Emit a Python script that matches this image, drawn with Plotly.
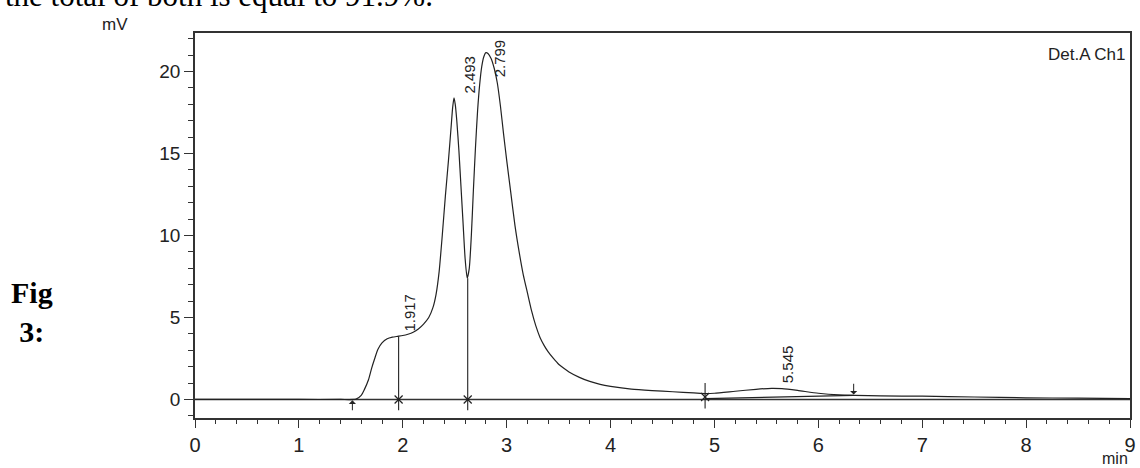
import plotly.graph_objects as go

# ---- data ----
time_min = [0.0, 0.5, 1.0, 1.4, 1.55, 1.6, 1.63, 1.67, 1.70, 1.73, 1.76, 1.80, 1.85, 1.90,
            1.95, 2.00, 2.05, 2.10, 2.15, 2.20, 2.25, 2.29, 2.32, 2.35, 2.38, 2.41, 2.44,
            2.465, 2.48, 2.493, 2.505, 2.52, 2.54, 2.56, 2.58, 2.60, 2.62, 2.64, 2.66, 2.68,
            2.70, 2.72, 2.74, 2.76, 2.78, 2.80, 2.82, 2.85, 2.88, 2.91, 2.94, 2.97, 3.00,
            3.04, 3.08, 3.12, 3.16, 3.20, 3.24, 3.28, 3.32, 3.36, 3.40, 3.45, 3.50, 3.55,
            3.60, 3.70, 3.80, 3.90, 4.0, 4.2, 4.4, 4.6, 4.8, 4.92, 5.0, 5.2, 5.4, 5.55,
            5.65, 5.8, 6.0, 6.2, 6.35, 6.6, 7.0, 7.5, 8.0, 8.5, 9.0]
signal_mv = [0.0, 0.0, 0.0, 0.0, 0.02, 0.25, 0.6, 1.2, 1.9, 2.5, 3.05, 3.45, 3.7, 3.8,
             3.85, 3.9, 3.98, 4.1, 4.3, 4.6, 5.0, 5.6, 6.4, 7.8, 10.0, 12.4, 14.6,
             16.6, 17.8, 18.4, 18.0, 17.0, 15.2, 13.0, 10.8, 8.6, 7.4, 8.0, 10.0, 12.8,
             15.4, 17.6, 19.2, 20.3, 20.9, 21.15, 21.1, 20.8, 20.2, 19.3, 17.9, 16.2, 14.6,
             12.6, 10.6, 9.0, 7.6, 6.5, 5.4, 4.5, 3.8, 3.3, 2.9, 2.5, 2.15, 1.9,
             1.68, 1.35, 1.1, 0.92, 0.8, 0.63, 0.54, 0.47, 0.4, 0.36, 0.38, 0.5, 0.62, 0.68,
             0.66, 0.55, 0.38, 0.28, 0.25, 0.22, 0.2, 0.15, 0.1, 0.08, 0.05]

peak_labels = ["1.917", "2.493", "2.799", "5.545"]
peak_label_x = [2.065, 2.645, 2.935, 5.70]
peak_label_y = [5.27, 19.8, 20.8, 2.16]

drop_times = [1.96, 2.625]
drop_tops = [3.85, 7.4]
drop_bottom = -0.65

start_arrow = (1.515, -0.75, -0.05)   # x, tail y, head y (pointing up)
end_arrow = (6.34, 1.05, 0.3)         # x, tail y, head y (pointing down)
split_mark = (4.91, -0.55, 1.0)       # x, bottom, top
split_baseline_x = [4.91, 6.34]
split_baseline_y = [0.05, 0.25]

x_ticks = [0, 1, 2, 3, 4, 5, 6, 7, 8, 9]
y_ticks = [0, 5, 10, 15, 20]

# ---- layout geometry (pixels) ----
W, H = 1140, 468
L, R, T, B = 195, 4, 33, 50
PW, PH = W - L - R, H - T - B


def px(xp):
    return (xp - L) / PW


def py(yp):
    return (H - B - yp) / PH


ink = "#222222"
fig = go.Figure()

# zero baseline across the whole window
fig.add_trace(go.Scatter(x=[0, 9], y=[0, 0], mode="lines",
                         line=dict(color="#333333", width=1.6), hoverinfo="skip"))
# drop lines
dx, dy = [], []
for t, top in zip(drop_times, drop_tops):
    dx += [t, t, None]
    dy += [drop_bottom, top, None]
fig.add_trace(go.Scatter(x=dx, y=dy, mode="lines", line=dict(color=ink, width=1.1),
                         hoverinfo="skip"))
fig.add_trace(go.Scatter(x=drop_times, y=[0] * len(drop_times), mode="markers",
                         marker=dict(symbol="x-thin", size=8, line=dict(color=ink, width=1.2)),
                         hoverinfo="skip"))
# split marker at ~4.9 min
fig.add_trace(go.Scatter(x=[split_mark[0], split_mark[0]], y=[split_mark[1], split_mark[2]],
                         mode="lines", line=dict(color=ink, width=1.1), hoverinfo="skip"))
fig.add_trace(go.Scatter(x=[split_mark[0]], y=[0.15], mode="markers",
                         marker=dict(symbol="x-thin", size=8, line=dict(color=ink, width=1.1)),
                         hoverinfo="skip"))
fig.add_trace(go.Scatter(x=split_baseline_x, y=split_baseline_y, mode="lines",
                         line=dict(color=ink, width=1.1), hoverinfo="skip"))
# chromatogram
fig.add_trace(go.Scatter(x=time_min, y=signal_mv, mode="lines",
                         line=dict(color=ink, width=1.2, shape="spline", smoothing=0.6),
                         hoverinfo="skip"))

# arrows
for (ax_, tail, head) in [start_arrow, end_arrow]:
    fig.add_annotation(x=ax_, y=head, ax=ax_, ay=tail, xref="x", yref="y",
                       axref="x", ayref="y", showarrow=True, arrowhead=1,
                       arrowsize=1.2, arrowwidth=1, arrowcolor=ink, text="")

# peak labels
for lab, lx, ly in zip(peak_labels, peak_label_x, peak_label_y):
    fig.add_annotation(x=lx, y=ly, xref="x", yref="y", text=lab, showarrow=False,
                       textangle=-90, xanchor="center", yanchor="middle",
                       font=dict(family="Liberation Sans", size=15, color=ink))

# outside texts
fig.add_annotation(x=px(2), y=py(15), xref="paper", yref="paper", xanchor="left",
                   yanchor="bottom", showarrow=False,
                   text="the total of both is equal to 91.9%.",
                   font=dict(family="Liberation Serif", size=31, color="black"))
fig.add_annotation(x=px(114), y=py(24), xref="paper", yref="paper", xanchor="center",
                   yanchor="middle", showarrow=False, text="mV",
                   font=dict(family="Liberation Sans", size=17, color=ink))
fig.add_annotation(x=px(1121), y=py(459), xref="paper", yref="paper", xanchor="center",
                   yanchor="middle", showarrow=False, text="min",
                   font=dict(family="Liberation Sans", size=16, color=ink))
fig.add_annotation(x=px(1134), y=py(54), xref="paper", yref="paper", xanchor="right",
                   yanchor="middle", showarrow=False, text="Det.A Ch1",
                   font=dict(family="Liberation Sans", size=17, color=ink))
fig.add_annotation(x=px(31), y=py(312), xref="paper", yref="paper", xanchor="center",
                   yanchor="middle", showarrow=False, align="center",
                   text="<b>Fig</b><br><b>3:</b>",
                   font=dict(family="Liberation Serif", size=30, color="black"))

axis_common = dict(showline=True, linecolor="#333333", linewidth=1.5, mirror=True,
                   showgrid=False, zeroline=False, ticks="outside", tickcolor="#333333",
                   tickwidth=1.2)
fig.update_xaxes(range=[0, 9], tickvals=x_ticks, ticklen=8,
                 tickfont=dict(family="Liberation Sans", size=20, color=ink),
                 minor=dict(dtick=0.2, ticks="outside", ticklen=4, tickcolor="#333333",
                            tickwidth=1), **axis_common)
fig.update_yaxes(range=[-1.13, 22.35], tickvals=y_ticks, ticklen=9,
                 tickfont=dict(family="Liberation Sans", size=19, color=ink),
                 minor=dict(dtick=1, ticks="outside", ticklen=5, tickcolor="#333333",
                            tickwidth=1), **axis_common)

fig.update_layout(width=W, height=H, margin=dict(l=L, r=R, t=T, b=B),
                  paper_bgcolor="white", plot_bgcolor="white", showlegend=False)

fig.write_html("out.html")
